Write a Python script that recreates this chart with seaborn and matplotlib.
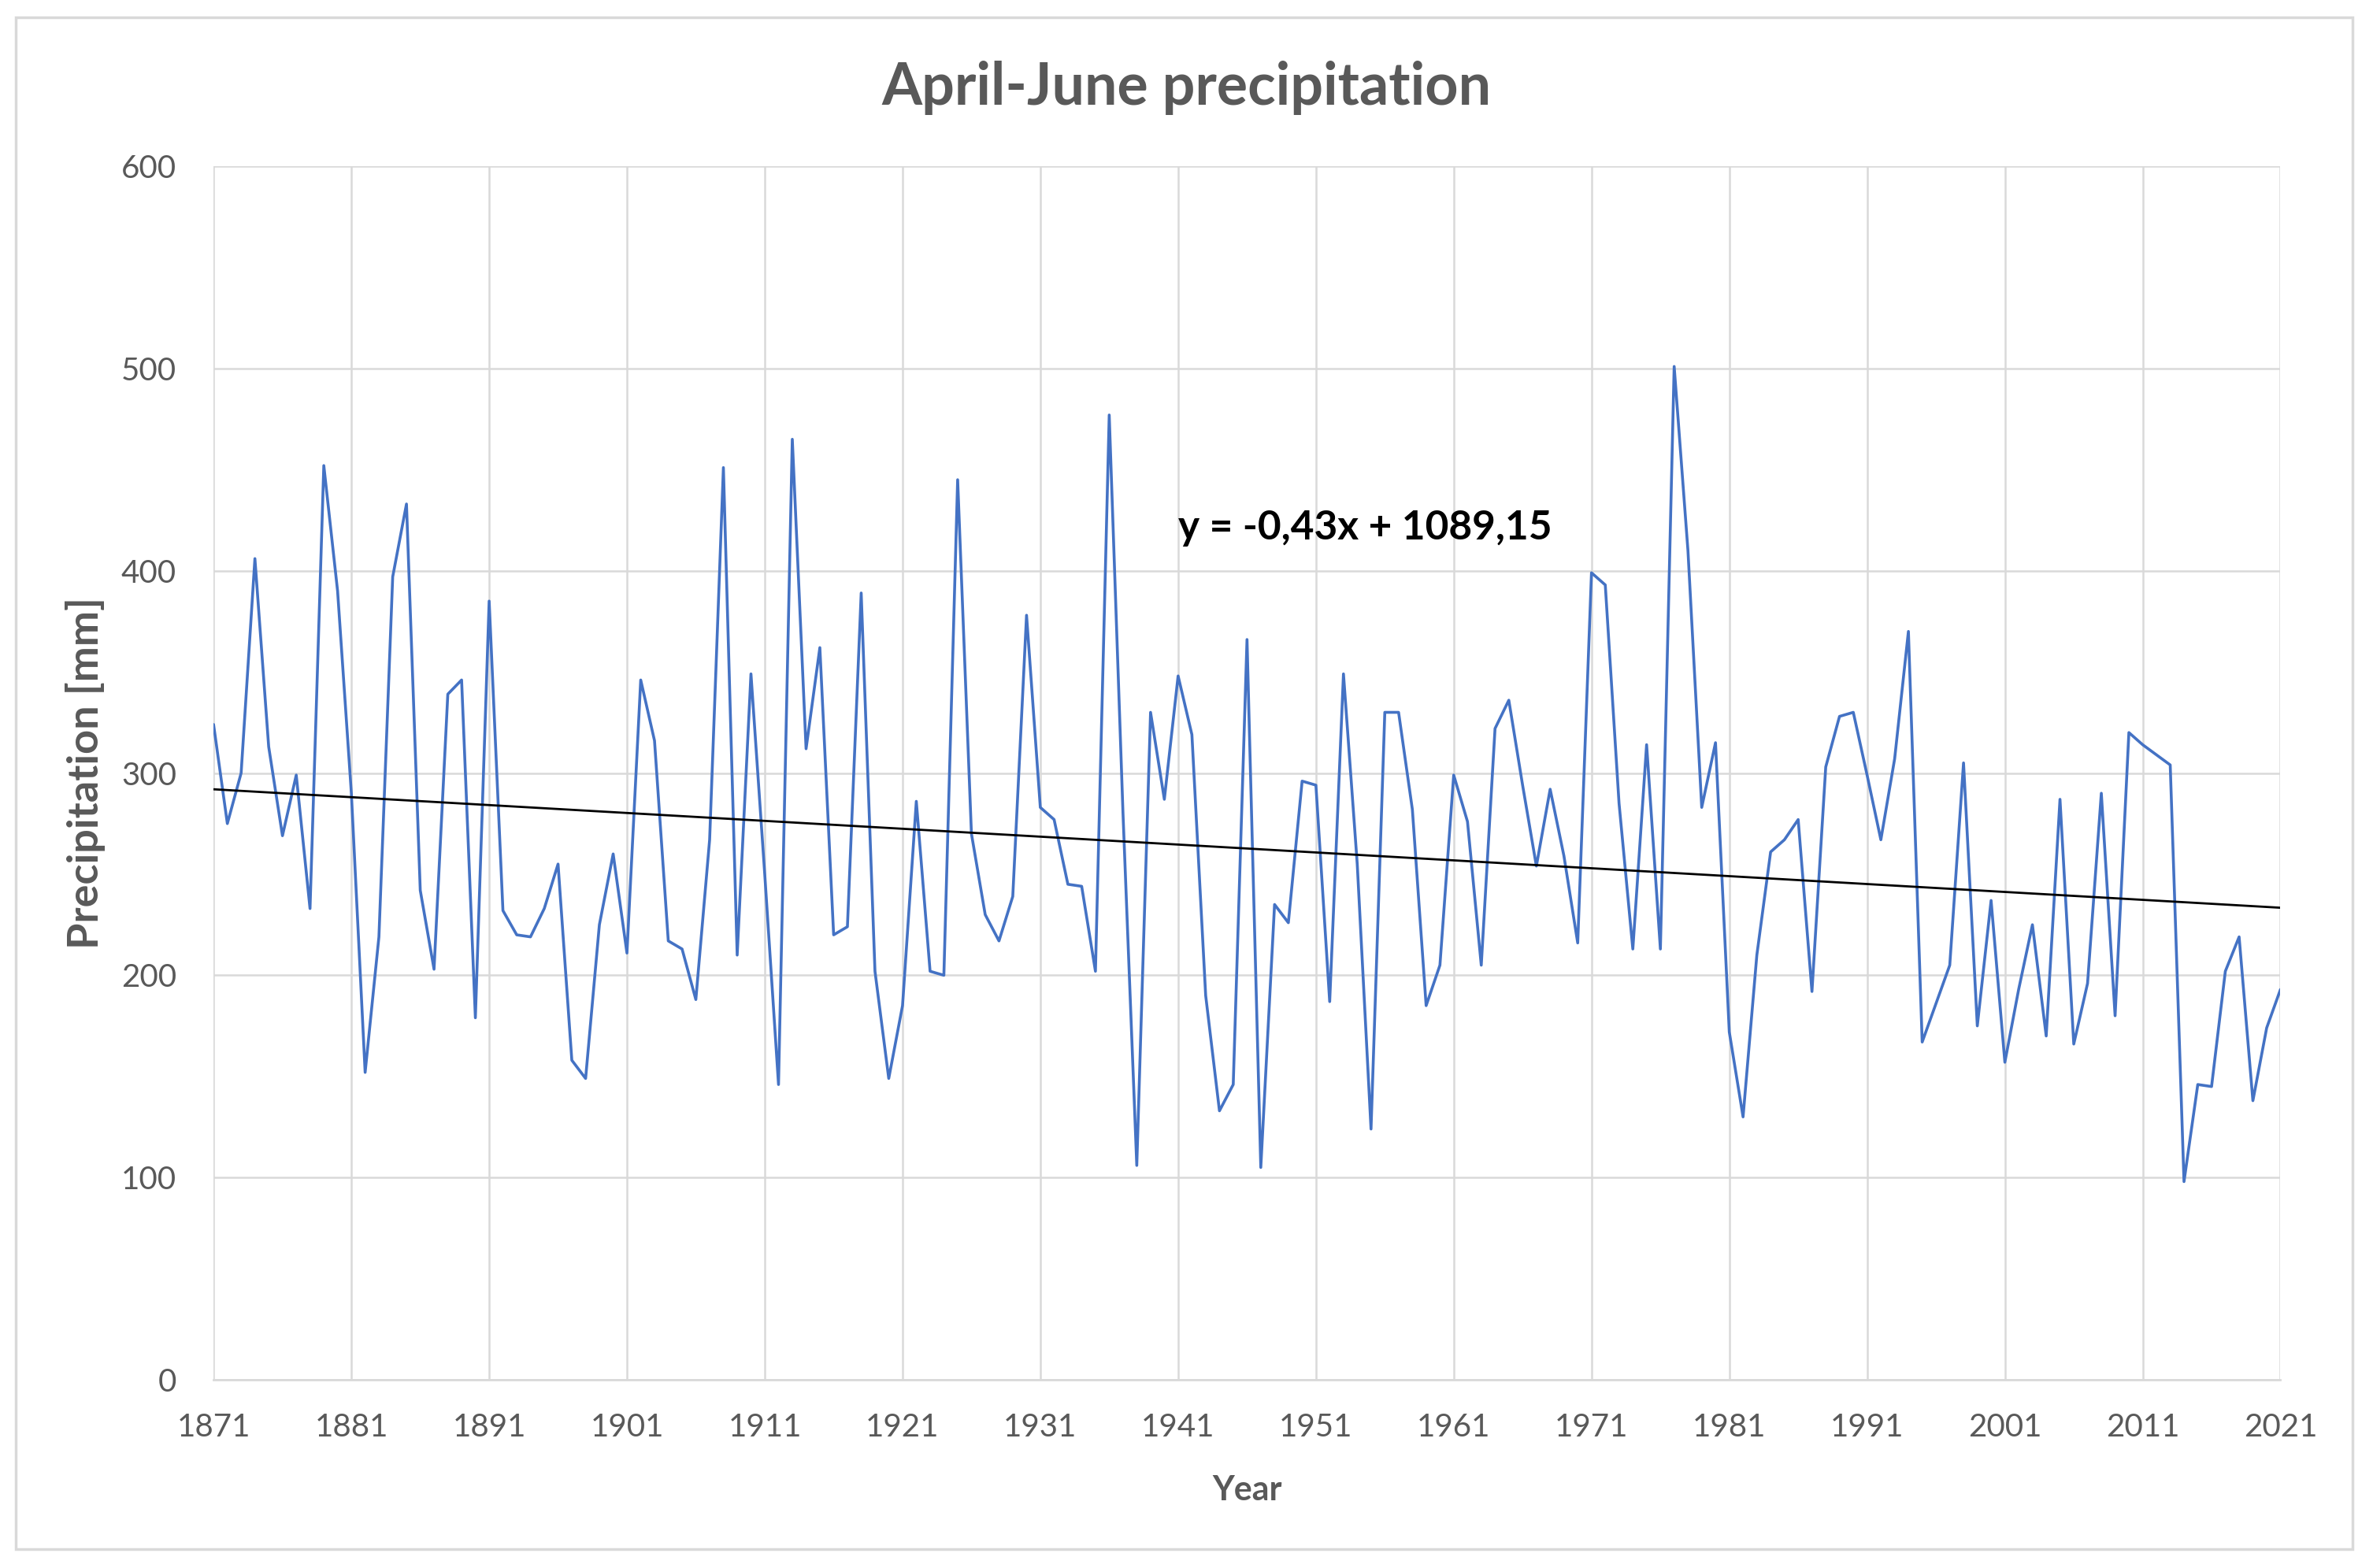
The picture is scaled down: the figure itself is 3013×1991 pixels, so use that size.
import numpy as np
import pandas as pd
import matplotlib
matplotlib.use("Agg")
import matplotlib.pyplot as plt
from matplotlib.patches import Rectangle
import seaborn as sns

# April-June precipitation per year (mm)
years = list(range(1871, 2022))
precip = [
    324, 275, 300, 406, 313, 269, 299, 233, 452, 390,  # 1871-1880
    290, 152, 219, 397, 433, 242, 203, 339, 346, 179,  # 1881-1890
    385, 232, 220, 219, 233, 255, 158, 149, 225, 260,  # 1891-1900
    211, 346, 316, 217, 213, 188, 267, 451, 210, 349,  # 1901-1910
    250, 146, 465, 312, 362, 220, 224, 389, 202, 149,  # 1911-1920
    185, 286, 202, 200, 445, 270, 230, 217, 239, 378,  # 1921-1930
    283, 277, 245, 244, 202, 477, 280, 106, 330, 287,  # 1931-1940
    348, 319, 190, 133, 146, 366, 105, 235, 226, 296,  # 1941-1950
    294, 187, 349, 255, 124, 330, 330, 282, 185, 205,  # 1951-1960
    299, 276, 205, 322, 336, 294, 254, 292, 259, 216,  # 1961-1970
    399, 393, 285, 213, 314, 213, 501, 410, 283, 315,  # 1971-1980
    172, 130, 210, 261, 267, 277, 192, 303, 328, 330,  # 1981-1990
    299, 267, 307, 370, 167, 186, 205, 305, 175, 237,  # 1991-2000
    157, 193, 225, 170, 287, 166, 196, 290, 180, 320,  # 2001-2010
    314, 309, 304, 98, 146, 145, 202, 219, 138, 174,   # 2011-2020
    193,                                               # 2021
]
year_ticks = list(range(1871, 2022, 10))
value_ticks = list(range(0, 601, 100))
trend_label = "y = -0,43x + 1089,15"

df = pd.DataFrame({"Year": years, "Precipitation": precip})

sns.set_theme(style="whitegrid")
plt.rcParams["font.family"] = ["Lato", "DejaVu Sans"]

grey_text = "#595959"
grid_col = "#D9D9D9"

fig = plt.figure(figsize=(30.13, 19.91), dpi=100)
ax = fig.add_axes([0.090, 0.120, 0.871, 0.774])

sns.lineplot(data=df, x="Year", y="Precipitation", ax=ax,
             color="#4472C4", linewidth=2.6)
sns.regplot(data=df, x="Year", y="Precipitation", ax=ax, scatter=False,
            ci=None, truncate=True, line_kws={"color": "black", "linewidth": 2.0})

ax.set_xlim(1871, 2021)
ax.set_ylim(0, 600)
ax.set_xticks(year_ticks)
ax.set_yticks(value_ticks)
ax.grid(True, color=grid_col, linewidth=1.8)
for side in ["top", "right", "left"]:
    ax.spines[side].set_visible(False)
ax.spines["bottom"].set_color(grid_col)
ax.spines["bottom"].set_linewidth(2.0)
ax.tick_params(axis="both", length=0, labelsize=29, colors=grey_text)
ax.tick_params(axis="x", pad=30)
ax.tick_params(axis="y", pad=34)

ax.set_xlabel("Year", fontsize=31, fontweight="bold", color=grey_text, labelpad=30)
ax.set_ylabel("Precipitation [mm]", fontsize=39, fontweight="bold",
              color=grey_text, labelpad=14)
fig.text(0.50, 0.944, "April-June precipitation", ha="center", va="center",
         fontsize=53, fontweight="bold", color=grey_text)
ax.text(1941.0, 421, trend_label, ha="left", va="center",
        fontsize=37, fontweight="bold", color="black")

fig.patches.append(Rectangle((0.0065, 0.012), 0.985, 0.977, transform=fig.transFigure,
                             fill=False, edgecolor=grid_col, linewidth=2.5))

fig.savefig("out.png", dpi=100, facecolor="white")
